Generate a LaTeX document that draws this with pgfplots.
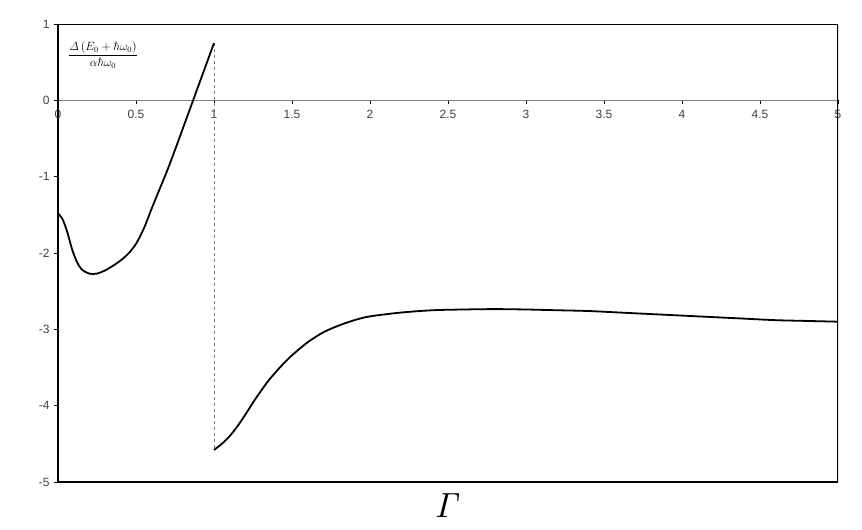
\documentclass[border=0pt]{standalone}
\usepackage[no-math]{fontspec}
\setmainfont{Liberation Sans}
\usepackage{graphicx}
\usepackage{pgfplots}
\pgfplotsset{compat=1.18}
\begin{document}
\begin{tikzpicture}
\useasboundingbox (-58pt,-48pt) rectangle (804pt,482pt);
\begin{axis}[
  at={(0pt,0pt)}, anchor=south west,
  scale only axis, width=780pt, height=458pt,
  xmin=0, xmax=5, ymin=-5, ymax=1,
  axis x line=middle, axis y line=left,
  x axis line style={-, draw=gray, line width=1.3pt},
  y axis line style={-, draw=black, line width=1.1pt},
  xtick={0,0.5,1,1.5,2,2.5,3,3.5,4,4.5,5},
  ytick={-5,-4,-3,-2,-1,0,1},
  hide obscured x ticks=false,
  major tick length=4pt,
  xtick style={black, line width=0.8pt, yshift=-2pt},
  ytick align=outside,
  ytick style={black, line width=0.8pt},
  /pgf/number format/assume math mode=true,
  ticklabel style={font=\fontsize{12}{13}\selectfont, text=black!75},
  xticklabel style={yshift=-4pt},
  yticklabel style={xshift=-1pt},
  xlabel={\scalebox{3.5}{$\mathit{\Gamma}$}},
  xlabel style={at={(axis description cs:0.5,0)}, anchor=center, yshift=-24pt},
  ylabel={$\displaystyle\frac{\mathit{\Delta}\left(E_0+\hbar\omega_0\right)}{\alpha\hbar\omega_0}$},
  ylabel style={at={(axis description cs:0.0577,0.932)}, anchor=center, rotate=-90, font=\fontsize{12}{14}\selectfont},
]
\draw[black, line width=1.1pt] (rel axis cs:0,0) -- (rel axis cs:1,0) -- (rel axis cs:1,1) -- (rel axis cs:0,1);
\addplot[gray, dashed, line width=0.5pt] coordinates {(1,0.75) (1,-4.58)};
\addplot[black, line width=1.8pt, smooth] coordinates {
(0,-1.48) (0.03,-1.56) (0.06,-1.73) (0.09,-1.95) (0.12,-2.11) (0.15,-2.21)
(0.2,-2.27) (0.25,-2.27) (0.3,-2.23) (0.35,-2.17) (0.4,-2.10) (0.45,-2.01)
(0.5,-1.88) (0.55,-1.68) (0.6,-1.42) (0.65,-1.17) (0.7,-0.92) (0.75,-0.65)
(0.8,-0.37) (0.85,-0.09) (0.9,0.19) (0.95,0.47) (1.0,0.75)
};
\addplot[black, line width=1.8pt, smooth] coordinates {
(1.0,-4.58) (1.05,-4.50) (1.1,-4.40) (1.15,-4.27) (1.2,-4.12) (1.25,-3.96)
(1.3,-3.81) (1.35,-3.67) (1.4,-3.55) (1.45,-3.44) (1.5,-3.34) (1.6,-3.17)
(1.7,-3.04) (1.8,-2.95) (1.9,-2.88) (2.0,-2.83) (2.2,-2.78) (2.4,-2.75)
(2.6,-2.74) (2.8,-2.735) (3.0,-2.74) (3.2,-2.75) (3.4,-2.76) (3.6,-2.78)
(3.8,-2.80) (4.0,-2.82) (4.2,-2.84) (4.4,-2.86) (4.6,-2.88) (4.8,-2.89) (5.0,-2.90)
};
\end{axis}
\end{tikzpicture}
\end{document}
